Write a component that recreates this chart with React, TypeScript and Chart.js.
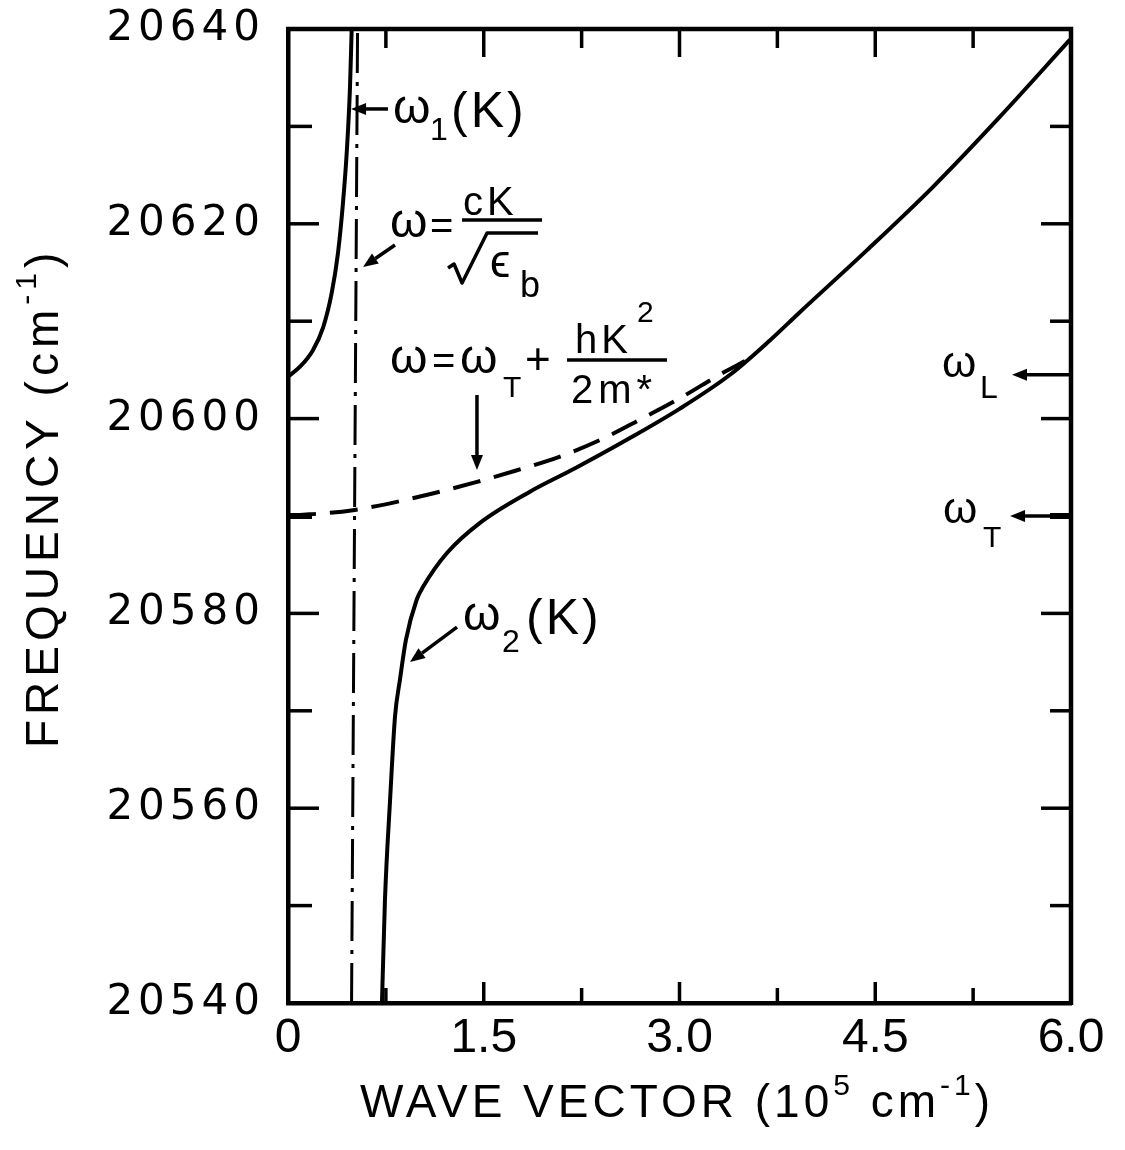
import React, { useEffect, useRef } from 'react';
import { Chart, registerables } from 'chart.js';

Chart.register(...registerables);

// ---- data ----
const K_UPPER = [0, 0.09, 0.19, 0.27, 0.335, 0.383, 0.421, 0.45, 0.475, 0.488];
const W_UPPER = [20604.3, 20605.3, 20607.0, 20609.4, 20612.9, 20617.0, 20622.1, 20627.3, 20634.0, 20640];

const K_LOWER = [0.72, 0.743, 0.782, 0.82, 0.858, 0.904, 0.986, 1.034, 1.218, 1.471, 1.854, 2.2, 2.62, 3.0, 3.387, 3.69, 3.92, 4.437, 4.943, 5.456, 5.992];
const W_LOWER = [20540, 20550.6, 20560.8, 20569.4, 20573.2, 20577.3, 20581.4, 20582.7, 20586.2, 20589.3, 20592.5, 20594.9, 20598.0, 20601.0, 20604.5, 20608.0, 20610.9, 20617.3, 20623.8, 20631.0, 20638.9];

const K_EXCITON = [0, 0.498, 1.011, 1.448, 1.755, 2.084, 2.391, 2.697, 3.004, 3.333, 3.502];
const W_EXCITON = [20590, 20590.6, 20592.0, 20593.5, 20594.7, 20596.1, 20597.8, 20599.9, 20602.1, 20604.7, 20605.9];

const K_PHOTON = [0.487, 0.533];
const W_PHOTON = [20540, 20640];

const X_MAJOR = [0, 1.5, 3, 4.5, 6];
const X_LABELS = ['0', '1.5', '3.0', '4.5', '6.0'];
const X_MINOR = [0.75, 2.25, 3.75, 5.25];
const Y_MAJOR = [20540, 20560, 20580, 20600, 20620, 20640];
const Y_LABELS = ['20540', '20560', '20580', '20600', '20620', '20640'];
const Y_MINOR = [20550, 20570, 20590, 20610, 20630];

const OMEGA_T = 20590;
const OMEGA_L = 20604.5;

// ---- annotations (anchors in data coordinates, pieces offset in px) ----
type Piece = { t: string; dx: number; dy: number; size: number; ls?: number };
type Label = { k: number; w: number; pieces: Piece[]; bars?: number[][]; paths?: number[][][] };

const LABELS: Label[] = [
  {
    k: 0.805, w: 20630.35,
    pieces: [
      { t: 'ω', dx: 0, dy: 0, size: 48 },
      { t: '1', dx: 37, dy: 17, size: 32 },
      { t: '(K)', dx: 58, dy: 4, size: 50, ls: 3 },
    ],
  },
  {
    k: 0.782, w: 20618.64,
    pieces: [
      { t: 'ω', dx: 0, dy: 0, size: 48 },
      { t: '=', dx: 40, dy: 2, size: 40 },
      { t: 'cK', dx: 73, dy: -22, size: 40, ls: 4 },
      { t: 'ϵ', dx: 100, dy: 40, size: 46 },
      { t: 'b', dx: 130, dy: 60, size: 36 },
    ],
    bars: [[72, 152, -17]],
    paths: [[[58, 31], [64, 27], [72, 46], [97, -4], [148, -4]]],
  },
  {
    k: 0.782, w: 20604.68,
    pieces: [
      { t: 'ω', dx: 0, dy: 0, size: 48 },
      { t: '=', dx: 42, dy: 1, size: 40 },
      { t: 'ω', dx: 70, dy: 0, size: 48 },
      { t: 'T', dx: 113, dy: 24, size: 30 },
      { t: '+', dx: 135, dy: 1, size: 44 },
      { t: 'hK', dx: 185, dy: -20, size: 40, ls: 4 },
      { t: '2', dx: 247, dy: -51, size: 30 },
      { t: '2m*', dx: 181, dy: 30, size: 40, ls: 5 },
    ],
    bars: [[177, 277, -13]],
  },
  {
    k: 1.341, w: 20578.3,
    pieces: [
      { t: 'ω', dx: 0, dy: 0, size: 48 },
      { t: '2', dx: 39, dy: 22, size: 32 },
      { t: '(K)', dx: 63, dy: 4, size: 50, ls: 3 },
    ],
  },
  {
    k: 5.011, w: 20604.27,
    pieces: [
      { t: 'ω', dx: 0, dy: 0, size: 44 },
      { t: 'L', dx: 38, dy: 21, size: 32 },
    ],
  },
  {
    k: 5.019, w: 20589.28,
    pieces: [
      { t: 'ω', dx: 0, dy: 0, size: 44 },
      { t: 'T', dx: 40, dy: 24, size: 30 },
    ],
  },
];

const ARROWS = [
  { k1: 0.766, w1: 20631.79, k2: 0.483, w2: 20631.79 },
  { k1: 0.82, w1: 20617.82, k2: 0.575, w2: 20615.56 },
  { k1: 1.448, w1: 20602.42, k2: 1.448, w2: 20594.72 },
  { k1: 1.295, w1: 20578.6, k2: 0.935, w2: 20575.0 },
  { k1: 6.0, w1: OMEGA_L, k2: 5.548, w2: OMEGA_L },
  { k1: 6.0, w1: OMEGA_T, k2: 5.533, w2: OMEGA_T },
];

type Seg = { t: string; size: number; dy?: number };
const X_TITLE: Seg[] = [
  { t: 'WAVE VECTOR (10', size: 46 },
  { t: '5', size: 30, dy: -22 },
  { t: ' cm', size: 46 },
  { t: '-1', size: 30, dy: -22 },
  { t: ')', size: 46 },
];
const Y_TITLE: Seg[] = [
  { t: 'FREQUENCY (cm', size: 46 },
  { t: '-1', size: 30, dy: -22 },
  { t: ')', size: 46 },
];

const ANN_FONT = "'Liberation Sans', 'DejaVu Sans', sans-serif";
const TICK_FONT_Y = "'DejaVu Sans', sans-serif";
const TICK_FONT_X = "'Liberation Sans', sans-serif";

const pts = (ks: number[], ws: number[]) => ks.map((k, i) => ({ x: k, y: ws[i] }));

function drawSeq(ctx: any, segs: Seg[], ls: number) {
  let cx = 0;
  for (const s of segs) {
    ctx.font = `${s.size}px ${ANN_FONT}`;
    ctx.letterSpacing = `${ls}px`;
    ctx.fillText(s.t, cx, s.dy ?? 0);
    cx += ctx.measureText(s.t).width;
  }
}

function arrow(ctx: any, x1: number, y1: number, x2: number, y2: number) {
  const ang = Math.atan2(y2 - y1, x2 - x1);
  const hl = 15, hw = 6;
  const bx = x2 - hl * Math.cos(ang), by = y2 - hl * Math.sin(ang);
  ctx.beginPath();
  ctx.moveTo(x1, y1);
  ctx.lineTo(bx, by);
  ctx.stroke();
  ctx.beginPath();
  ctx.moveTo(x2, y2);
  ctx.lineTo(bx + hw * Math.sin(ang), by - hw * Math.cos(ang));
  ctx.lineTo(bx - hw * Math.sin(ang), by + hw * Math.cos(ang));
  ctx.closePath();
  ctx.fill();
}

const decor = {
  id: 'decor',
  afterDatasetsDraw(chart: any) {
    const { ctx, chartArea: a, scales } = chart;
    const x = scales.x, y = scales.y;
    ctx.save();
    ctx.strokeStyle = '#000';
    ctx.fillStyle = '#000';
    // top and right frame
    ctx.lineWidth = 4.5;
    ctx.beginPath();
    ctx.moveTo(a.left - 2, a.top);
    ctx.lineTo(a.right, a.top);
    ctx.lineTo(a.right, a.bottom + 2);
    ctx.stroke();
    // inward ticks
    const yt = (vals: number[], lenL: number, lenR: number) => {
      for (const v of vals) {
        if (v <= y.min || v >= y.max) continue;
        const py = y.getPixelForValue(v);
        ctx.lineWidth = v === OMEGA_T ? 6 : 3.5;
        ctx.beginPath(); ctx.moveTo(a.left, py); ctx.lineTo(a.left + lenL, py); ctx.stroke();
        ctx.beginPath(); ctx.moveTo(a.right, py); ctx.lineTo(a.right - lenR, py); ctx.stroke();
      }
    };
    yt(Y_MAJOR, 31, 30);
    yt(Y_MINOR, 24, 21);
    ctx.lineWidth = 3.5;
    const xt = (vals: number[], lenB: number, lenT: number) => {
      for (const v of vals) {
        if (v <= x.min || v >= x.max) continue;
        const px = x.getPixelForValue(v);
        ctx.beginPath(); ctx.moveTo(px, a.bottom); ctx.lineTo(px, a.bottom - lenB); ctx.stroke();
        ctx.beginPath(); ctx.moveTo(px, a.top); ctx.lineTo(px, a.top + lenT); ctx.stroke();
      }
    };
    xt(X_MAJOR, 21, 28);
    xt(X_MINOR, 15, 19);

    // annotations
    ctx.textBaseline = 'alphabetic';
    ctx.textAlign = 'left';
    ctx.lineJoin = 'round';
    for (const L of LABELS) {
      const ax = x.getPixelForValue(L.k), ay = y.getPixelForValue(L.w);
      for (const p of L.pieces) {
        ctx.font = `${p.size}px ${ANN_FONT}`;
        ctx.letterSpacing = `${p.ls ?? 0}px`;
        ctx.fillText(p.t, ax + p.dx, ay + p.dy);
      }
      ctx.letterSpacing = '0px';
      ctx.lineWidth = 3.5;
      for (const b of L.bars ?? []) {
        ctx.beginPath();
        ctx.moveTo(ax + b[0], ay + b[2]);
        ctx.lineTo(ax + b[1], ay + b[2]);
        ctx.stroke();
      }
      for (const path of L.paths ?? []) {
        ctx.beginPath();
        path.forEach((pt, i) => (i ? ctx.lineTo(ax + pt[0], ay + pt[1]) : ctx.moveTo(ax + pt[0], ay + pt[1])));
        ctx.stroke();
      }
    }
    ctx.lineWidth = 3.5;
    for (const A of ARROWS) {
      arrow(ctx, x.getPixelForValue(A.k1), y.getPixelForValue(A.w1), x.getPixelForValue(A.k2), y.getPixelForValue(A.w2));
    }

    // axis titles
    ctx.save();
    ctx.translate(360, 1117);
    drawSeq(ctx, X_TITLE, 4);
    ctx.restore();
    ctx.save();
    ctx.translate(58, 748);
    ctx.rotate(-Math.PI / 2);
    drawSeq(ctx, Y_TITLE, 5);
    ctx.restore();
    ctx.restore();
  },
};

function spaced(px: number) {
  return (axis: any) => {
    if (axis.__spaced) return;
    const orig = axis.drawLabels;
    axis.drawLabels = function (area: any) {
      const c = this.ctx;
      c.save();
      c.letterSpacing = `${px}px`;
      orig.call(this, area);
      c.restore();
    };
    axis.__spaced = true;
  };
}

export default function App() {
  const ref = useRef<HTMLCanvasElement | null>(null);
  useEffect(() => {
    if (!ref.current) return;
    const line = { showLine: true, pointRadius: 0, borderColor: '#000', borderWidth: 4, fill: false };
    const chart = new Chart(ref.current, {
      type: 'scatter',
      data: {
        datasets: [
          { ...line, label: 'ω1(K)', data: pts(K_UPPER, W_UPPER), cubicInterpolationMode: 'monotone' },
          { ...line, label: 'ω2(K)', data: pts(K_LOWER, W_LOWER), cubicInterpolationMode: 'monotone' },
          { ...line, label: 'exciton', data: pts(K_EXCITON, W_EXCITON), cubicInterpolationMode: 'monotone', borderDash: [28, 14], borderWidth: 4 },
          { ...line, label: 'photon', data: pts(K_PHOTON, W_PHOTON), borderDash: [40, 9, 4, 9], borderWidth: 3 },
        ],
      } as any,
      plugins: [decor],
      options: {
        animation: false,
        responsive: false,
        maintainAspectRatio: false,
        layout: { padding: { left: 0, top: 29, right: 54, bottom: 0 } },
        plugins: { legend: { display: false }, tooltip: { enabled: false } },
        scales: {
          x: {
            type: 'linear',
            min: 0,
            max: 6,
            grid: { display: false, drawTicks: false },
            border: { display: true, color: '#000', width: 4.5 },
            ticks: {
              color: '#000',
              padding: 7,
              font: { family: TICK_FONT_X, size: 48 },
              callback: (v: any) => X_LABELS[X_MAJOR.indexOf(Number(v))] ?? '',
            },
            afterBuildTicks: (axis: any) => { axis.ticks = X_MAJOR.map((v) => ({ value: v })); },
            afterFit: (axis: any) => { axis.height = 147; axis.paddingLeft = 0; axis.paddingRight = 0; },
          },
          y: {
            type: 'linear',
            min: 20540,
            max: 20640,
            grid: { display: false, drawTicks: false },
            border: { display: true, color: '#000', width: 4.5 },
            ticks: {
              color: '#000',
              padding: 23,
              font: { family: TICK_FONT_Y, size: 42 },
              callback: (v: any) => Y_LABELS[Y_MAJOR.indexOf(Number(v))] ?? '',
            },
            afterBuildTicks: (axis: any) => { axis.ticks = Y_MAJOR.map((v) => ({ value: v })); },
            afterFit: (axis: any) => { axis.width = 288; axis.paddingTop = 0; axis.paddingBottom = 0; },
            afterUpdate: spaced(5),
          },
        },
      } as any,
    });
    return () => chart.destroy();
  }, []);
  return (
    <div style={{ position: 'absolute', left: 0, top: 0, width: 1125, height: 1150, background: '#fff' }}>
      <canvas ref={ref} width={1125} height={1150} />
    </div>
  );
}
